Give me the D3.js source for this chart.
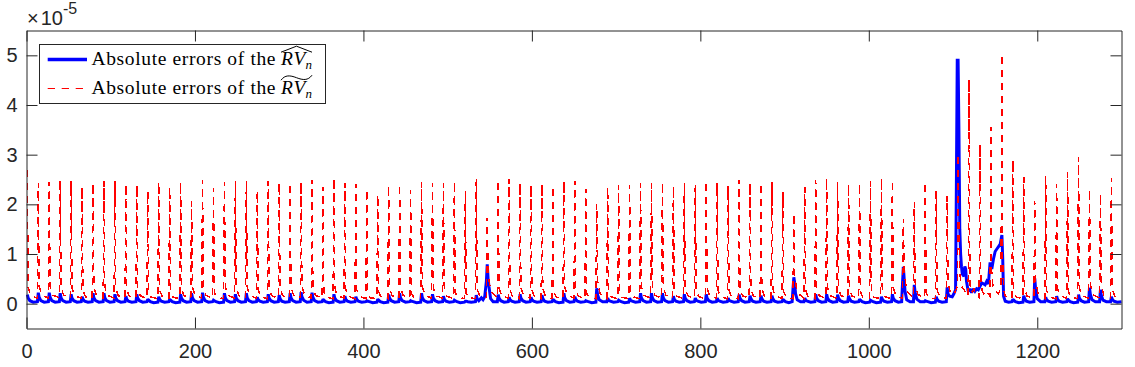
<!DOCTYPE html>
<html>
<head>
<meta charset="utf-8">
<script src="https://cdn.jsdelivr.net/npm/d3@7"></script>
<style>
    body { margin: 0; background: #ffffff; }
    .tick text { font-family: "Liberation Sans", Arial, sans-serif; font-size: 20px; fill: #262626; }
    .tick line, .domain { stroke: #262626; }
</style>
</head>
<body>
<svg id="chart" width="1135" height="367"></svg>
<script>
// Values are in units of 1e-5 (the axis exponent).
const yExponent = -5;
const xTicks = [0, 200, 400, 600, 800, 1000, 1200];
const yTicks = [0, 1, 2, 3, 4, 5];
const xDomain = [0, 1300];
const yDomain = [-0.5, 5.5];
const seriesLabels = ["Absolute errors of the", "Absolute errors of the"];

// Absolute errors of the RV-hat (blue, solid). Each row: x, y, x, y, ...
const hatErrors = [
    [1,.18, 2,.11, 4,.06, 8,.03, 13,.04],
    [14,.22, 15,.13, 17,.06, 21,.03, 26,.04],
    [27,.22, 28,.13, 30,.06, 34,.03, 39,.04],
    [40,.21, 41,.12, 43,.06, 47,.03, 52,.04],
    [53,.19, 54,.11, 56,.06, 60,.03, 65,.04],
    [66,.14, 67,.09, 69,.05, 73,.03, 78,.04],
    [79,.21, 80,.12, 82,.06, 86,.03, 91,.04],
    [92,.21, 93,.12, 95,.06, 99,.03, 104,.04],
    [105,.19, 106,.11, 108,.06, 112,.03, 117,.04],
    [118,.15, 119,.09, 121,.05, 125,.03, 130,.04],
    [131,.19, 132,.11, 134,.06, 138,.03, 143,.04],
    [144,.09, 145,.07, 147,.04, 151,.02, 156,.03],
    [157,.14, 158,.09, 160,.05, 164,.03, 169,.04],
    [170,.09, 171,.07, 173,.04, 177,.02, 182,.03],
    [183,.19, 184,.11, 186,.06, 190,.03, 195,.04],
    [196,.21, 197,.12, 199,.06, 203,.03, 208,.04],
    [209,.22, 210,.13, 212,.06, 216,.03, 221,.04],
    [222,.07, 223,.06, 225,.04, 229,.02, 234,.03],
    [235,.21, 236,.12, 238,.06, 242,.03, 247,.04],
    [248,.19, 249,.11, 251,.06, 255,.03, 260,.04],
    [261,.21, 262,.12, 264,.06, 268,.03, 273,.04],
    [274,.13, 275,.08, 277,.05, 281,.03, 286,.04],
    [287,.19, 288,.11, 290,.06, 294,.03, 299,.04],
    [300,.17, 301,.10, 303,.05, 307,.03, 312,.04],
    [313,.21, 314,.12, 316,.06, 320,.03, 325,.04],
    [326,.23, 327,.14, 329,.07, 333,.03, 338,.04],
    [339,.22, 340,.13, 342,.06, 346,.03, 351,.04],
    [352,.09, 353,.07, 355,.04, 359,.02, 364,.03],
    [365,.19, 366,.11, 368,.06, 372,.03, 377,.04],
    [378,.15, 379,.09, 381,.05, 385,.03, 390,.04],
    [391,.14, 392,.09, 394,.05, 398,.03, 403,.04],
    [404,.06, 405,.05, 407,.04, 411,.02, 416,.03],
    [417,.09, 418,.07, 420,.04, 424,.02, 429,.03],
    [430,.18, 431,.11, 433,.06, 437,.03, 442,.04],
    [443,.21, 444,.12, 446,.06, 450,.03, 455,.04],
    [456,.06, 457,.05, 459,.04, 463,.02, 468,.03],
    [469,.21, 470,.12, 472,.06, 476,.03, 481,.04],
    [482,.19, 483,.11, 485,.06, 489,.03, 494,.04],
    [495,.15, 496,.09, 498,.05, 502,.03, 507,.04],
    [508,.07, 509,.06, 511,.04, 515,.02, 520,.03],
    [521,.05, 522,.05, 524,.04, 528,.03, 533,.04],
    [534,.17, 535,.10, 537,.06, 540,.12, 542,.08, 544,.14, 546,.45],
    [547,.79, 548,.50, 549,.35, 551,.10, 554,.04, 559,.04],
    [560,.18, 561,.11, 563,.06, 567,.03, 572,.04],
    [573,.13, 574,.08, 576,.05, 580,.03, 585,.04],
    [586,.19, 587,.11, 589,.06, 593,.03, 598,.04],
    [599,.13, 600,.08, 602,.05, 606,.03, 611,.04],
    [612,.17, 613,.10, 615,.05, 619,.03, 624,.04],
    [625,.09, 626,.07, 628,.04, 632,.02, 637,.03],
    [638,.21, 639,.12, 641,.06, 645,.03, 650,.04],
    [651,.14, 652,.09, 654,.05, 658,.03, 663,.04],
    [664,.06, 665,.05, 667,.04, 671,.02, 676,.03],
    [677,.31, 678,.18, 680,.08, 684,.04, 689,.04],
    [690,.11, 691,.07, 693,.05, 697,.03, 702,.04],
    [703,.07, 704,.06, 706,.04, 710,.02, 715,.03],
    [716,.11, 717,.07, 719,.05, 723,.03, 728,.04],
    [729,.21, 730,.12, 732,.06, 736,.03, 741,.04],
    [742,.21, 743,.12, 745,.06, 749,.03, 754,.04],
    [755,.21, 756,.12, 758,.06, 762,.03, 767,.04],
    [768,.15, 769,.09, 771,.05, 775,.03, 780,.04],
    [781,.19, 782,.11, 784,.06, 788,.03, 793,.04],
    [794,.11, 795,.07, 797,.05, 801,.03, 806,.04],
    [807,.19, 808,.11, 810,.06, 814,.03, 819,.04],
    [820,.11, 821,.07, 823,.05, 827,.03, 832,.04],
    [833,.11, 834,.07, 836,.05, 840,.03, 845,.04],
    [846,.18, 847,.11, 849,.06, 853,.03, 858,.04],
    [859,.16, 860,.10, 862,.05, 866,.03, 871,.04],
    [872,.16, 873,.10, 875,.05, 879,.03, 884,.04],
    [885,.16, 886,.10, 888,.05, 892,.03, 897,.04],
    [898,.09, 899,.07, 901,.04, 905,.02, 909,.04],
    [910,.30, 911,.53, 912,.42, 913,.20, 915,.08, 919,.04, 923,.04],
    [924,.11, 925,.07, 927,.05, 931,.03, 936,.04],
    [937,.19, 938,.11, 940,.06, 944,.03, 949,.04],
    [950,.19, 951,.11, 953,.06, 957,.03, 962,.04],
    [963,.18, 964,.11, 966,.06, 970,.03, 975,.04],
    [976,.16, 977,.10, 979,.05, 983,.03, 988,.04],
    [989,.09, 990,.07, 992,.04, 996,.02, 1001,.03],
    [1002,.07, 1003,.06, 1005,.04, 1009,.02, 1014,.03],
    [1015,.14, 1016,.09, 1018,.05, 1022,.03, 1027,.04],
    [1028,.19, 1029,.11, 1031,.06, 1035,.03, 1039,.04],
    [1040,.40, 1041,.74, 1042,.50, 1043,.25, 1045,.08, 1049,.04, 1053,.04],
    [1054,.38, 1055,.22, 1057,.09, 1061,.04, 1066,.04],
    [1067,.06, 1068,.05, 1070,.04, 1074,.02, 1079,.03],
    [1080,.14, 1081,.09, 1083,.05, 1087,.03, 1092,.04],
    [1093,.33, 1094,.20, 1096,.15, 1099,.14, 1101,.20, 1103,.28, 1104,2.45, 1105,4.90,
     1106,4.90, 1107,3.45, 1108,1.50, 1109,1.00, 1110,.75, 1111,.60, 1113,.55, 1114,.75,
     1115,.70, 1116,.45, 1118,.25, 1120,.30, 1122,.22, 1124,.30, 1126,.25, 1128,.30,
     1130,.28, 1132,.35, 1134,.42, 1136,.40, 1138,.38, 1140,.45, 1142,.40, 1144,.83,
     1146,.70, 1148,.90, 1150,1.05, 1152,1.10, 1154,1.15, 1156,1.20, 1158,1.38, 1159,.90,
     1160,.15, 1162,.05, 1166,.03, 1170,.04],
    [1171,.09, 1172,.07, 1174,.04, 1178,.02, 1183,.03],
    [1184,.16, 1185,.10, 1187,.05, 1191,.03, 1196,.04],
    [1197,.51, 1198,.30, 1200,.10, 1204,.04, 1209,.04],
    [1210,.13, 1211,.08, 1213,.05, 1217,.03, 1222,.04],
    [1223,.15, 1224,.09, 1226,.05, 1230,.03, 1235,.04],
    [1236,.10, 1237,.07, 1239,.04, 1243,.02, 1248,.03],
    [1249,.18, 1250,.11, 1252,.06, 1256,.03, 1261,.04],
    [1262,.32, 1263,.19, 1265,.08, 1269,.04, 1274,.04],
    [1275,.28, 1276,.17, 1278,.07, 1282,.04, 1287,.04],
    [1288,.14, 1289,.09, 1291,.05, 1295,.03, 1300,.04]
];

// Absolute errors of the RV-tilde (red, dashed). Each row: x, y, x, y, ...
const tildeErrors = [
    [1,2.70, 2,.32, 5,.16, 13,.11],
    [14,2.43, 15,.35, 18,.18, 26,.11],
    [27,2.45, 28,.34, 31,.17, 39,.12],
    [40,2.47, 41,.33, 44,.17, 52,.11],
    [53,2.47, 54,.31, 57,.16, 65,.11],
    [66,2.35, 67,.27, 70,.14, 78,.10],
    [79,2.43, 80,.33, 83,.17, 91,.11],
    [92,2.47, 93,.34, 96,.17, 104,.11],
    [105,2.47, 106,.31, 109,.16, 117,.11],
    [118,2.41, 119,.29, 122,.15, 130,.11],
    [131,2.39, 132,.31, 135,.16, 143,.10],
    [144,2.25, 145,.24, 148,.13, 156,.10],
    [157,2.45, 158,.27, 161,.15, 169,.10],
    [170,2.35, 171,.24, 174,.13, 182,.10],
    [183,2.45, 184,.31, 187,.16, 195,.11],
    [196,2.06, 197,.34, 200,.17, 208,.11],
    [209,2.49, 210,.35, 213,.17, 221,.11],
    [222,2.33, 223,.22, 226,.13, 234,.10],
    [235,2.45, 236,.34, 239,.17, 247,.11],
    [248,2.47, 249,.32, 252,.16, 260,.11],
    [261,2.47, 262,.34, 265,.17, 273,.11],
    [274,2.27, 275,.28, 278,.14, 286,.10],
    [287,2.47, 288,.32, 291,.16, 299,.11],
    [300,2.43, 301,.30, 304,.16, 312,.11],
    [313,2.43, 314,.34, 317,.17, 325,.11],
    [326,2.45, 327,.36, 330,.18, 338,.11],
    [339,2.49, 340,.35, 343,.17, 351,.11],
    [352,2.35, 353,.24, 356,.13, 364,.10],
    [365,2.53, 366,.32, 369,.16, 377,.11],
    [378,2.43, 379,.29, 382,.15, 390,.10],
    [391,2.40, 392,.28, 395,.15, 403,.10],
    [404,2.29, 405,.21, 408,.12, 416,.10],
    [417,2.19, 418,.24, 421,.13, 429,.10],
    [430,2.39, 431,.31, 434,.16, 442,.11],
    [443,2.41, 444,.34, 447,.17, 455,.11],
    [456,2.29, 457,.21, 460,.12, 468,.10],
    [469,2.45, 470,.34, 473,.17, 481,.11],
    [482,2.43, 483,.32, 486,.16, 494,.11],
    [495,2.43, 496,.29, 499,.15, 507,.10],
    [508,2.47, 509,.22, 512,.13, 520,.10],
    [521,2.27, 522,.20, 525,.12, 533,.10],
    [534,2.51, 535,.30, 538,.15, 546,.12],
    [547,1.73, 548,.62, 551,.25, 559,.11],
    [560,2.49, 561,.31, 564,.16, 572,.11],
    [573,2.51, 574,.28, 577,.14, 585,.10],
    [586,2.43, 587,.32, 590,.16, 598,.11],
    [599,2.39, 600,.28, 603,.14, 611,.10],
    [612,2.41, 613,.30, 616,.15, 624,.11],
    [625,2.37, 626,.24, 629,.13, 637,.10],
    [638,2.47, 639,.34, 642,.17, 650,.11],
    [651,2.47, 652,.30, 655,.15, 663,.10],
    [664,2.31, 665,.21, 668,.12, 676,.10],
    [677,2.01, 678,.45, 681,.20, 689,.11],
    [690,2.35, 691,.27, 694,.14, 702,.10],
    [703,2.39, 704,.22, 707,.13, 715,.10],
    [716,2.39, 717,.27, 720,.14, 728,.10],
    [729,2.43, 730,.34, 733,.17, 741,.11],
    [742,2.43, 743,.34, 746,.17, 754,.11],
    [755,2.45, 756,.34, 759,.17, 767,.11],
    [768,2.37, 769,.29, 772,.15, 780,.10],
    [781,2.43, 782,.32, 785,.16, 793,.11],
    [794,2.39, 795,.27, 798,.14, 806,.10],
    [807,2.47, 808,.32, 811,.16, 819,.11],
    [820,2.43, 821,.27, 824,.14, 832,.10],
    [833,2.37, 834,.27, 837,.14, 845,.10],
    [846,2.49, 847,.31, 850,.16, 858,.11],
    [859,2.43, 860,.30, 863,.15, 871,.11],
    [872,2.43, 873,.30, 876,.15, 884,.11],
    [885,2.45, 886,.30, 889,.15, 897,.11],
    [898,2.25, 899,.24, 902,.13, 910,.10],
    [911,1.81, 912,.55, 915,.22, 923,.11],
    [924,2.35, 925,.27, 928,.14, 936,.10],
    [937,2.49, 938,.32, 941,.16, 949,.11],
    [950,2.53, 951,.32, 954,.16, 962,.11],
    [963,2.45, 964,.31, 967,.16, 975,.11],
    [976,2.41, 977,.30, 980,.15, 988,.11],
    [989,2.43, 990,.24, 993,.13, 1001,.10],
    [1002,2.47, 1003,.22, 1006,.13, 1014,.10],
    [1015,2.53, 1016,.28, 1019,.14, 1027,.10],
    [1028,2.49, 1029,.32, 1032,.16, 1040,.11],
    [1041,1.71, 1042,.65, 1045,.25, 1053,.11],
    [1054,2.05, 1055,.42, 1058,.19, 1066,.11],
    [1067,2.45, 1068,.22, 1071,.13, 1079,.10],
    [1080,2.27, 1081,.28, 1084,.14, 1092,.11],
    [1093,2.17, 1094,.40, 1097,.22, 1101,.18, 1105,.35],
    [1106,3.02, 1107,1.40, 1108,.60, 1110,.35, 1113,.28, 1116,.18, 1118,.15],
    [1119,4.51, 1120,.40, 1122,.22, 1125,.30, 1128,.16, 1131,.12],
    [1132,3.21, 1133,.38, 1135,.24, 1138,.16, 1141,.22, 1144,.15],
    [1145,3.55, 1146,.55, 1148,.30, 1151,.24, 1154,.20, 1157,.32],
    [1158,5.03, 1159,.80, 1160,.30, 1162,.16, 1165,.12, 1170,.10],
    [1171,2.89, 1172,.24, 1175,.13, 1183,.10],
    [1184,2.55, 1185,.30, 1188,.15, 1196,.11],
    [1197,2.07, 1198,.48, 1201,.20, 1209,.11],
    [1210,2.57, 1211,.27, 1214,.14, 1222,.10],
    [1223,2.41, 1224,.31, 1227,.16, 1235,.11],
    [1236,2.65, 1237,.24, 1240,.13, 1248,.10],
    [1249,2.95, 1250,.32, 1253,.16, 1261,.11],
    [1262,2.31, 1263,.40, 1266,.18, 1274,.11],
    [1275,2.22, 1276,.38, 1279,.17, 1287,.11],
    [1288,2.53, 1289,.30, 1292,.15, 1300,.13]
];

// Turn rows of x,y,x,y into a list of [x, y] points.
function toPoints(rows) {
    let pts = [];
    rows.forEach(function(r) {
        for (let i = 0; i < r.length; i += 2) pts.push([r[i], r[i+1]]);
    });
    return pts;
}

function drawChart() {
    let svg = d3.select("#chart");
    let plotLeft = 26.5, plotRight = 1121.5, plotTop = 30.5, plotBottom = 328.5;

    let x = d3.scaleLinear().domain(xDomain).range([plotLeft, plotRight]);
    let y = d3.scaleLinear().domain(yDomain).range([plotBottom, plotTop]);

    let line = d3.line()
        .x(function(d) { return x(d[0]); })
        .y(function(d) { return y(d[1]); });

    // Data lines: blue first, red dashed on top
    svg.append("path")
        .datum(toPoints(hatErrors))
        .attr("d", line)
        .style("fill", "none")
        .style("stroke", "#0000ff")
        .style("stroke-width", 3)
        .style("stroke-linejoin", "miter")
        .style("stroke-miterlimit", 2);

    svg.append("path")
        .datum(toPoints(tildeErrors))
        .attr("d", line)
        .style("fill", "none")
        .style("stroke", "#ff0000")
        .style("stroke-width", 1.5)
        .style("stroke-dasharray", "7,6")
        .style("shape-rendering", "crispEdges");

    // Axes with inward ticks on all four sides
    let fmt = d3.format("d");
    svg.append("g")
        .attr("transform", "translate(0," + plotBottom + ")")
        .call(d3.axisBottom(x).tickValues(xTicks).tickFormat(fmt)
            .tickSizeInner(-11).tickSizeOuter(0).tickPadding(15));
    svg.append("g")
        .attr("transform", "translate(0," + plotTop + ")")
        .call(d3.axisTop(x).tickValues(xTicks).tickSizeInner(-11).tickSizeOuter(0).tickFormat(""));
    svg.append("g")
        .attr("transform", "translate(" + plotLeft + ",0)")
        .call(d3.axisLeft(y).tickValues(yTicks).tickFormat(fmt)
            .tickSizeInner(-11).tickSizeOuter(0).tickPadding(9));
    svg.append("g")
        .attr("transform", "translate(" + plotRight + ",0)")
        .call(d3.axisRight(y).tickValues(yTicks).tickSizeInner(-11).tickSizeOuter(0).tickFormat(""));

    // Exponent label
    let expo = svg.append("text")
        .attr("x", 27)
        .attr("y", 25)
        .style("font-family", "'Liberation Sans', Arial, sans-serif")
        .style("fill", "#262626");
    expo.append("tspan")
        .style("font-size", "20px")
        .text("\u00d7");
    expo.append("tspan")
        .attr("dx", 2)
        .style("font-size", "20px")
        .text("10");
    expo.append("tspan")
        .attr("dy", -11)
        .style("font-size", "16px")
        .text("-" + Math.abs(yExponent));

    // Legend
    let legend = svg.append("g");
    legend.append("rect")
        .attr("x", 39.5).attr("y", 44.5)
        .attr("width", 286).attr("height", 59)
        .style("fill", "#ffffff")
        .style("stroke", "#262626")
        .style("stroke-width", 1);

    let rows = [
        {label: seriesLabels[0], y: 59.5, color: "#0000ff", width: 3.5, dash: null, accent: "hat"},
        {label: seriesLabels[1], y: 88.5, color: "#ff0000", width: 1, dash: "7.3,6.7", accent: "tilde"}
    ];

    rows.forEach(function(r) {
        legend.append("line")
            .attr("x1", 47.7).attr("x2", 87)
            .attr("y1", r.y).attr("y2", r.y)
            .style("stroke", r.color)
            .style("stroke-width", r.width)
            .style("stroke-dasharray", r.dash);

        let base = r.y + 5.7;
        legend.append("text")
            .attr("x", 91.5).attr("y", base)
            .attr("textLength", 184)
            .attr("lengthAdjust", "spacing")
            .style("font-family", "'Liberation Serif', 'Times New Roman', serif")
            .style("font-size", "19.5px")
            .style("fill", "#000000")
            .text(r.label);

        let math = legend.append("text")
            .attr("x", 281).attr("y", base)
            .style("font-family", "'Liberation Serif', 'Times New Roman', serif")
            .style("font-style", "italic")
            .style("font-size", "19.5px")
            .style("fill", "#000000");
        math.append("tspan").text("R");
        math.append("tspan").attr("dx", 1).text("V");
        math.append("tspan")
            .attr("dy", 4)
            .style("font-size", "13px")
            .text("n");

        if (r.accent == "hat") {
            legend.append("path")
                .attr("d", "M281," + (base - 13) + "L296.5," + (base - 19) + "L312," + (base - 13))
                .style("fill", "none").style("stroke", "#000").style("stroke-width", 1);
        } else {
            legend.append("path")
                .attr("d", "M281," + (base - 14) + "C285," + (base - 19.5) + " 290," + (base - 19) + " 296.5," + (base - 16.5)
                    + "C303," + (base - 14) + " 308," + (base - 13.5) + " 312," + (base - 19))
                .style("fill", "none").style("stroke", "#000").style("stroke-width", 1);
        }
    });
}

drawChart();
</script>
</body>
</html>
